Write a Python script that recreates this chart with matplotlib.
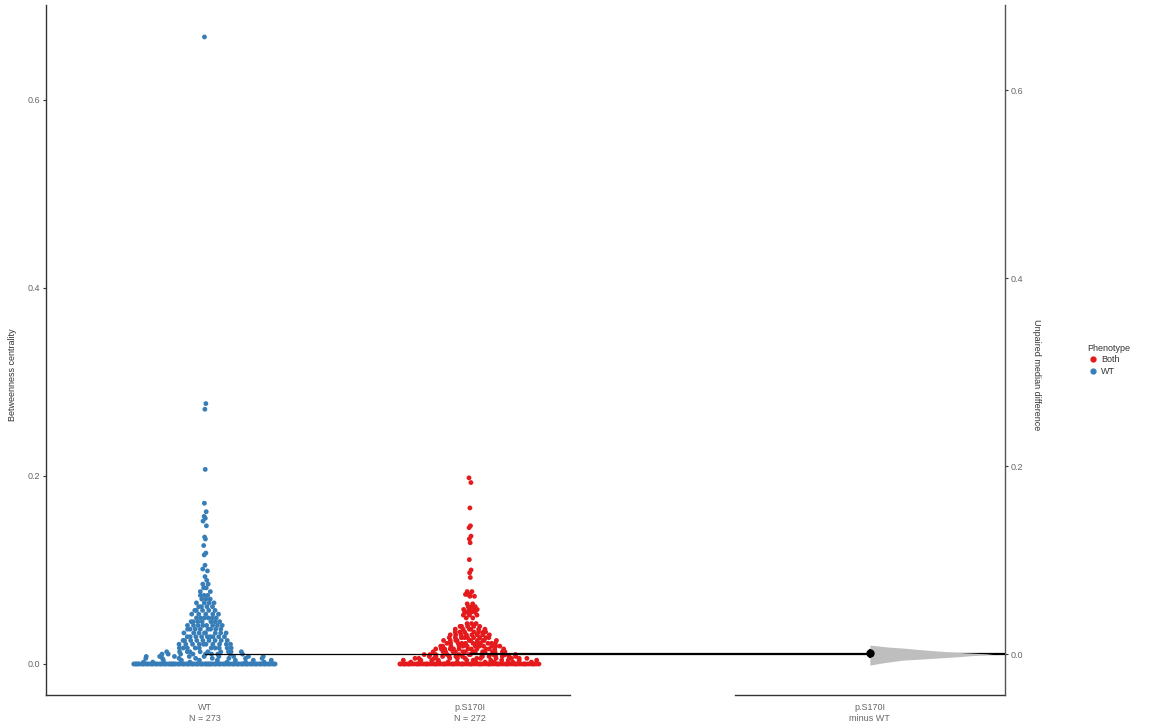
import numpy as np
import matplotlib
matplotlib.use("Agg")
import matplotlib.pyplot as plt
from matplotlib.lines import Line2D

plt.rcParams["font.family"] = ["Liberation Sans", "DejaVu Sans"]

wt_values = [0.667, 0.277, 0.271, 0.207, 0.171, 0.162, 0.157, 0.155, 0.152, 0.147,
             0.135, 0.133, 0.126, 0.118, 0.116, 0.105, 0.101, 0.099, 0.093,
             0.089, 0.085, 0.081, 0.077, 0.073, 0.069, 0.065, 0.061, 0.057, 0.053,
             0.049, 0.045, 0.041, 0.037, 0.033, 0.029, 0.025, 0.021, 0.017, 0.013,
             0.0105, 0.008, 0.006, 0.004, 0.002, 0.0]
wt_counts = [1] * 19 + [1, 2, 2, 2, 3, 3, 4, 4, 5, 5,
                        6, 7, 8, 8, 8, 9, 9, 10, 10, 10,
                        9, 9, 8, 7, 6, 98]

mut_values = [0.198, 0.193, 0.166, 0.147, 0.145, 0.136, 0.133, 0.129, 0.111, 0.100,
              0.097, 0.092,
              0.077, 0.074, 0.072, 0.064, 0.061, 0.058, 0.055, 0.052, 0.049,
              0.043, 0.040, 0.037, 0.034, 0.031, 0.028, 0.025, 0.022, 0.019, 0.016,
              0.013, 0.010, 0.008, 0.006, 0.004, 0.002, 0.0]
mut_counts = [1] * 12 + [2, 3, 2, 2, 3, 4, 4, 3, 2,
                         3, 5, 6, 7, 8, 9, 10, 11, 12, 13,
                         15, 11, 12, 12, 11, 10, 80]

groups = ["WT", "p.S170I"]
group_colors = ["#377EB8", "#E41A1C"]
xlabels = ["WT\nN = 273", "p.S170I\nN = 272", "p.S170I\nminus WT"]

ci = [-0.003, 0.004]
boot_y = [0.0096, 0.0075, 0.0064, 0.0040, 0.0021, 0.0, -0.0032, -0.0050, -0.0064,
          -0.0090, -0.0117]
boot_density = [0.0, 0.15, 0.27, 0.48, 0.67, 1.0, 0.67, 0.45, 0.27, 0.12, 0.0]

wt = np.repeat(wt_values, wt_counts)
mut = np.repeat(mut_values, mut_counts)
wt_median = np.median(wt)
mut_median = np.median(mut)
median_diff = mut_median - wt_median

W, H = 1173, 725
fig = plt.figure(figsize=(W / 100, H / 100), dpi=100)
ax = fig.add_axes([46 / W, 1 - 695 / H, (1005 - 46) / W, (695 - 5) / H])

pos = [1, 2, 3.509]
xlim = (0.4, 4.019)
ylim = (-0.033, 0.701)
ax.set_xlim(*xlim)
ax.set_ylim(*ylim)

ax2 = ax.twinx()
ax2.set_ylim(ylim[0] - wt_median, ylim[1] - wt_median)
ax2.set_xlim(*xlim)


def vdc(n, base=2):
    out = np.zeros(n)
    for i in range(n):
        k, f, r = i + 1, 1.0, 0.0
        while k > 0:
            f /= base
            r += f * (k % base)
            k //= base
        out[i] = r
    return out


def quasirandom(v, width, adjust=1.0):
    n = len(v)
    q75, q25 = np.percentile(v, [75, 25])
    bw = 0.9 * min(np.std(v, ddof=1), (q75 - q25) / 1.34) * n ** -0.2 * adjust
    dens = np.exp(-0.5 * ((v[:, None] - v[None, :]) / bw) ** 2).sum(axis=1)
    dens = dens / dens.max()
    rank = np.argsort(np.argsort(v, kind="stable"), kind="stable")
    return (vdc(n)[rank] - 0.5) * 2 * width * dens


for k, v in enumerate([wt, mut]):
    off = quasirandom(v, 0.28, 0.8)
    ax.scatter(pos[k] + off, v, s=12, color=group_colors[k], edgecolors="none", zorder=2)

# median lines running to the difference axis
ax.plot([pos[0], xlim[1]], [wt_median, wt_median], color="black", lw=0.9, zorder=3)
ax.plot([pos[1], xlim[1]], [mut_median, mut_median], color="black", lw=0.9, zorder=3)

# bootstrap half violin + median difference
bw = 0.464
ax2.fill_betweenx(boot_y, pos[2], pos[2] + np.array(boot_density) * bw,
                  color="#BEBEBE", lw=0, zorder=2)
ax2.plot([pos[2], pos[2]], ci, color="black", lw=1.5, zorder=4)
ax2.plot(pos[2], median_diff, "o", color="black", ms=5, zorder=5)

# axes styling
for s in ["top", "right", "bottom"]:
    ax.spines[s].set_visible(False)
for s in ["top", "left", "bottom"]:
    ax2.spines[s].set_visible(False)
ax.spines["left"].set_color("#333333")
ax2.spines["right"].set_color("#555555")
ax.spines["left"].set_linewidth(1.0)
ax2.spines["right"].set_linewidth(1.0)

trans = ax.get_xaxis_transform()
ax.plot([xlim[0], 2.377], [0, 0], color="#333333", lw=1.0, transform=trans, clip_on=False)
ax.plot([3.0, xlim[1]], [0, 0], color="#333333", lw=1.0, transform=trans, clip_on=False)

ticks = [0.0, 0.2, 0.4, 0.6]
ax.set_yticks(ticks)
ax.set_yticklabels([f"{t:.1f}" for t in ticks])
ax2.set_yticks(ticks)
ax2.set_yticklabels([f"{t:.1f}" for t in ticks])
for a in (ax, ax2):
    a.tick_params(axis="y", length=2.5, width=0.8, color="#333333",
                  labelsize=6.5, labelcolor="#666666", pad=1.5)

ax.set_xticks(pos)
ax.set_xticklabels(xlabels)
ax.tick_params(axis="x", length=0, labelsize=6.5, labelcolor="#666666", pad=6)
ax2.tick_params(axis="x", length=0, labelbottom=False)

fig.text(13 / W, 350 / H, "Betweenness centrality", rotation=90, ha="center",
         va="center", fontsize=6.5, color="#333333")
fig.text(1037 / W, 350 / H, "Unpaired median difference", rotation=-90, ha="center",
         va="center", fontsize=6.5, color="#333333")

handles = [Line2D([], [], marker="o", ls="", color=group_colors[1], ms=3.5),
           Line2D([], [], marker="o", ls="", color=group_colors[0], ms=3.5)]
leg = fig.legend(handles, ["Both", "WT"], title="Phenotype", loc="center left",
                 bbox_to_anchor=(1084 / W, 1 - 360 / H), frameon=False,
                 fontsize=6.5, title_fontsize=6.5, handletextpad=0.3,
                 handlelength=1.2, labelspacing=0.3, borderaxespad=0)
leg._legend_box.align = "left"
for t in leg.get_texts():
    t.set_color("#333333")
leg.get_title().set_color("#333333")

fig.savefig("out.png", dpi=100)
